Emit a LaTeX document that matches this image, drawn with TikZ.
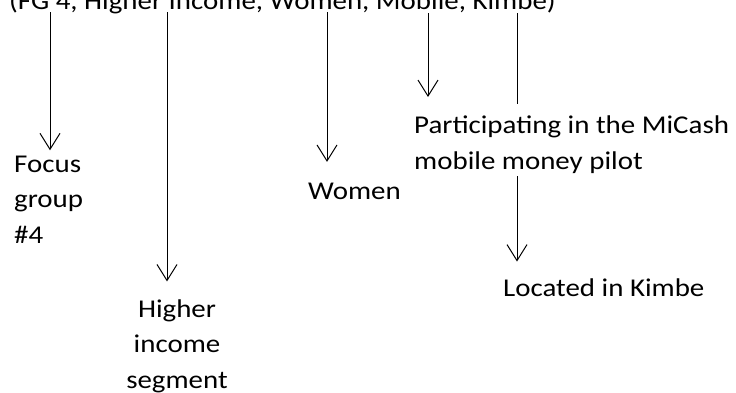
\documentclass[tikz,border=0pt]{standalone}
\usepackage{fontspec}
\setmainfont{Carlito}[FakeStretch=1.13]
\usetikzlibrary{arrows.meta}
\tikzset{
  lbl/.style={inner sep=0pt, font=\fontsize{25.6}{35.3}\selectfont},
  arr/.style={-{Straight Barb[length=16pt,width=20pt]}, line width=1pt},
  stem/.style={line width=1pt},
}
\begin{document}
\begin{tikzpicture}[x=1pt,y=-1pt]
	\useasboundingbox (0,0) rectangle (736,392);
	% heading, cut by the top edge
	\node (title)[lbl, anchor=base west] at (9,9) {(FG 4, Higher Income, Women, Mobile, Kimbe)};
	% labels (base = last line)
	\node (focus)[lbl, anchor=base west, align=left] at (14,243) {Focus\\group\\\#4};
	\node (higher)[lbl, anchor=base, align=center] at (177,388) {Higher\\income\\segment};
	\node (women)[lbl, anchor=base west] at (308,199) {Women};
	\node (pilot)[lbl, anchor=base west, align=left] at (414,169) {Participating in the MiCash\\mobile money pilot};
	\node (kimbe)[lbl, anchor=base west] at (503,296) {Located in Kimbe};
	% starts of the connectors under the heading
	\coordinate (s1) at (50,12);
	\coordinate (s2) at (167,12);
	\coordinate (s3) at (327,12);
	\coordinate (s4) at (428,13);
	\coordinate (e4) at (428,97);
	\coordinate (s5) at (517,13);
	% connectors
	\draw [arr, shorten >=5.5pt](s1) -- (s1 |- focus.north);
	\draw [arr, shorten >=18pt](s2) -- (s2 |- higher.north);
	\draw [arr, shorten >=20.5pt](s3) -- (s3 |- women.north);
	\draw [arr](s4) -- (e4);
	\draw [stem, shorten >=11.5pt](s5) -- (s5 |- pilot.north);
	\draw [arr, shorten <=3pt, shorten >=16.5pt](s5 |- pilot.south) -- (s5 |- kimbe.north);
\end{tikzpicture}
\end{document}
